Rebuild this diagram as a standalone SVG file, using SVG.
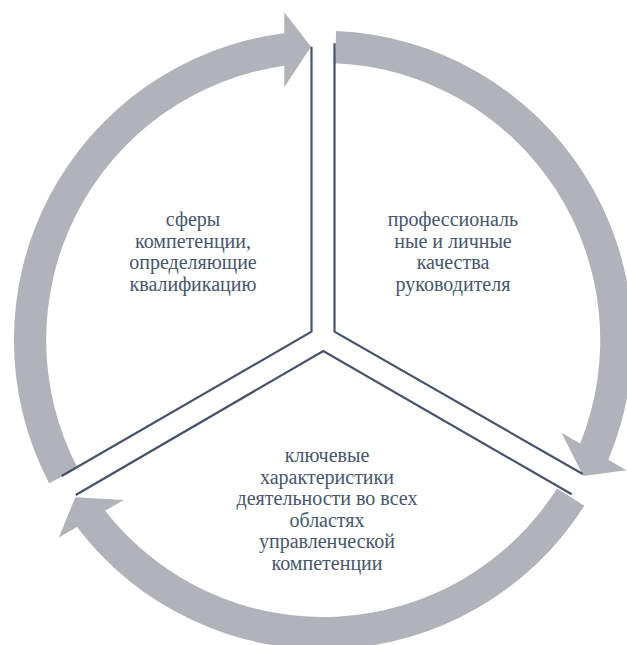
<svg xmlns="http://www.w3.org/2000/svg" width="627" height="645" viewBox="0 0 627 645">
  <defs>
    <style>
      .arrow { fill: #B0B3B9; stroke: none; }
      .edge { fill: none; stroke: #44546A; stroke-width: 2.2; stroke-linejoin: miter; }
      .label { font-family: "Liberation Serif", "Times New Roman", serif; font-size: 20px; fill: #46566C; text-anchor: middle; }
    </style>
    <path id="arc" d="M 49.1 483.3 A 309.3 309.3 0 0 1 284.3 33.2 L 284.3 12.3 L 311 46.7 L 284.3 87.3 L 284.3 65.7 A 277 277 0 0 0 77.7 468.3 Z"/>
  </defs>
  <rect x="0" y="0" width="627" height="645" fill="#FFFFFF"/>
  <g id="connectors">
    <use href="#arc" class="arrow"/>
    <use href="#arc" class="arrow" transform="rotate(120 323.2 340)"/>
    <use href="#arc" class="arrow" transform="rotate(240 323.2 340)"/>
  </g>
  <g id="node-left">
    <polyline class="edge" points="311.5,46.7 311.5,331.7 61.7,476"/>
    <text class="label" x="193" y="226">сферы</text>
    <text class="label" x="193" y="247.5">компетенции,</text>
    <text class="label" x="193" y="269">определяющие</text>
    <text class="label" x="193" y="290.5">квалификацию</text>
  </g>
  <g id="node-right">
    <polyline class="edge" points="334.5,43.3 334.5,331.7 582.7,474"/>
    <text class="label" x="453" y="226">профессиональ</text>
    <text class="label" x="453" y="247.5">ные и личные</text>
    <text class="label" x="453" y="269">качества</text>
    <text class="label" x="453" y="290.5">руководителя</text>
  </g>
  <g id="node-bottom">
    <polyline class="edge" points="75.7,495 323.3,351 571.7,494.3"/>
    <text class="label" x="327" y="462">ключевые</text>
    <text class="label" x="327" y="483.5">характеристики</text>
    <text class="label" x="327" y="505">деятельности во всех</text>
    <text class="label" x="327" y="526.5">областях</text>
    <text class="label" x="327" y="548">управленческой</text>
    <text class="label" x="327" y="569.5">компетенции</text>
  </g>
</svg>
